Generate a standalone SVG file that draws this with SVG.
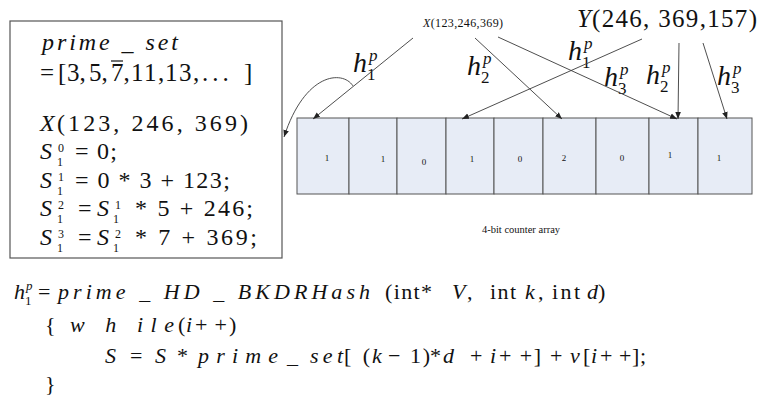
<svg xmlns="http://www.w3.org/2000/svg" width="760" height="398" viewBox="0 0 760 398">
<defs>
<style>
.m{font-family:"Liberation Serif","DejaVu Serif",serif;fill:#111}
.i{font-style:italic}
.L{font-size:24px}
.s{font-size:12px}
.B{font-size:22px}
.bs{font-size:13px}
.H{font-size:28px}
.hs{font-size:17px}
.c{font-size:9px}
.ln{stroke:#3a3a3a;stroke-width:0.9;fill:none}
.cell{fill:#e7ecf6;stroke:#555;stroke-width:1}
</style>
<marker id="ah" viewBox="0 0 10 10" refX="10" refY="5" markerWidth="7" markerHeight="7" markerUnits="userSpaceOnUse" orient="auto">
<path d="M0,1 L10,5 L0,9 z" fill="#222"/>
</marker>
</defs>
<rect width="760" height="398" fill="#fff"/>

<g id="formula-box">
<rect x="10" y="21" width="272" height="237" fill="#fff" stroke="#555" stroke-width="1.2"/>
<text class="m i L" x="42" y="50" textLength="136" lengthAdjust="spacing">prime _ set</text>
<text class="m" y="81" font-size="25"><tspan x="40">=</tspan><tspan x="58">[</tspan><tspan x="67">3,</tspan><tspan x="89">5,</tspan><tspan x="111">7,</tspan><tspan x="131" letter-spacing="1.5">11,</tspan><tspan x="165" letter-spacing="1.5">13,</tspan><tspan x="202" letter-spacing="4">...</tspan><tspan x="244">]</tspan></text>
<line x1="111" y1="61" x2="123" y2="61" stroke="#111" stroke-width="1.2"/>
<text class="m i L" x="40" y="131">X</text>
<text class="m L" x="57" y="131" textLength="191" lengthAdjust="spacing">(123, 246, 369)</text>
<text class="m i L" x="40" y="159">S</text>
<text class="m s" x="58" y="152">0</text>
<text class="m s" x="57" y="166">1</text>
<text class="m L" x="75" y="159" textLength="42" lengthAdjust="spacing">= 0;</text>
<text class="m i L" x="40" y="188">S</text>
<text class="m s" x="58" y="181">1</text>
<text class="m s" x="57" y="195">1</text>
<text class="m L" x="75" y="188" textLength="155" lengthAdjust="spacing">= 0 * 3 + 123;</text>
<text class="m i L" x="40" y="216">S</text>
<text class="m s" x="58" y="209">2</text>
<text class="m s" x="57" y="223">1</text>
<text class="m L" x="78" y="216">=</text>
<text class="m i L" x="97" y="216">S</text>
<text class="m s" x="115" y="209">1</text>
<text class="m s" x="113" y="223">1</text>
<text class="m L" x="135" y="216" textLength="118" lengthAdjust="spacing">* 5 + 246;</text>
<text class="m i L" x="40" y="245">S</text>
<text class="m s" x="58" y="238">3</text>
<text class="m s" x="57" y="252">1</text>
<text class="m L" x="78" y="245">=</text>
<text class="m i L" x="97" y="245">S</text>
<text class="m s" x="115" y="238">2</text>
<text class="m s" x="113" y="252">1</text>
<text class="m L" x="135" y="245" textLength="122" lengthAdjust="spacing">* 7 + 369;</text>
</g>

<g id="label-x">
<text class="m" x="423" y="27" font-size="12" textLength="80" lengthAdjust="spacing"><tspan font-style="italic">X</tspan>(123,246,369)</text>
</g>
<g id="label-y">
<text class="m i" x="577" y="27" font-size="25">Y</text>
<text class="m" x="592" y="27" font-size="25" textLength="165" lengthAdjust="spacing">(246, 369,157)</text>
</g>

<g id="h-labels">
<g id="hx1"><text class="m i H" x="353" y="72">h</text><text class="m i hs" x="369" y="61">p</text><text class="m hs" x="367" y="80">1</text></g>
<g id="hx2"><text class="m i H" x="467" y="75">h</text><text class="m i hs" x="483" y="64">p</text><text class="m hs" x="481" y="83">2</text></g>
<g id="hy1"><text class="m i H" x="568" y="60">h</text><text class="m i hs" x="584" y="49">p</text><text class="m hs" x="582" y="68">1</text></g>
<g id="hx3"><text class="m i H" x="604" y="86">h</text><text class="m i hs" x="620" y="75">p</text><text class="m hs" x="618" y="94">3</text></g>
<g id="hy2"><text class="m i H" x="646" y="84">h</text><text class="m i hs" x="662" y="73">p</text><text class="m hs" x="660" y="92">2</text></g>
<g id="hy3"><text class="m i H" x="717" y="85">h</text><text class="m i hs" x="733" y="74">p</text><text class="m hs" x="731" y="93">3</text></g>
</g>

<g id="counter-array">
<g id="cell-1"><rect class="cell" x="297" y="118" width="52" height="76"/><text class="m c" x="327" y="161" text-anchor="middle">1</text></g>
<g id="cell-2"><rect class="cell" x="349" y="118" width="48" height="76"/><text class="m c" x="383" y="162" text-anchor="middle">1</text></g>
<g id="cell-3"><rect class="cell" x="397" y="118" width="49" height="76"/><text class="m c" x="424" y="165" text-anchor="middle">0</text></g>
<g id="cell-4"><rect class="cell" x="446" y="118" width="48" height="76"/><text class="m c" x="472" y="162" text-anchor="middle">1</text></g>
<g id="cell-5"><rect class="cell" x="494" y="118" width="49" height="76"/><text class="m c" x="520" y="162" text-anchor="middle">0</text></g>
<g id="cell-6"><rect class="cell" x="543" y="118" width="53" height="76"/><text class="m c" x="564" y="161" text-anchor="middle">2</text></g>
<g id="cell-7"><rect class="cell" x="596" y="118" width="53" height="76"/><text class="m c" x="622" y="161" text-anchor="middle">0</text></g>
<g id="cell-8"><rect class="cell" x="649" y="118" width="49" height="76"/><text class="m c" x="670" y="158" text-anchor="middle">1</text></g>
<g id="cell-9"><rect class="cell" x="698" y="118" width="54" height="76"/><text class="m c" x="719" y="161" text-anchor="middle">1</text></g>
</g>
<g id="array-caption">
<text class="m" x="521" y="233" font-size="10.5" text-anchor="middle">4-bit counter array</text>
</g>

<g id="connectors">
<line class="ln" x1="413" y1="38" x2="313" y2="119" marker-end="url(#ah)"/>
<line class="ln" x1="475" y1="38" x2="562" y2="119" marker-end="url(#ah)"/>
<line class="ln" x1="498" y1="37" x2="677" y2="119" marker-end="url(#ah)"/>
<line class="ln" x1="642" y1="39" x2="462" y2="119" marker-end="url(#ah)"/>
<line class="ln" x1="679" y1="43" x2="678" y2="119" marker-end="url(#ah)"/>
<line class="ln" x1="703" y1="43" x2="727" y2="119" marker-end="url(#ah)"/>
<path class="ln" d="M353,86 C343,70 305,72 284,137" marker-end="url(#ah)"/>
</g>

<g id="hash-function">
<text class="m i B" x="14" y="299">h</text>
<text class="m i bs" x="26" y="290">p</text>
<text class="m bs" x="25" y="305">1</text>
<text class="m B" x="38" y="299">=</text>
<text class="m i B" x="58" y="299" textLength="312" lengthAdjust="spacing">prime _ HD _ BKDRHash</text>
<text class="m B" x="385" y="299" textLength="47" lengthAdjust="spacing">(int*</text>
<text class="m i B" x="452" y="299">V</text>
<text class="m B" x="467" y="299">,</text>
<text class="m B" x="490" y="299" textLength="26" lengthAdjust="spacing">int</text>
<text class="m i B" x="525" y="299">k</text>
<text class="m B" x="538" y="299">,</text>
<text class="m B" x="552" y="299" textLength="28" lengthAdjust="spacing">int</text>
<text class="m i B" x="587" y="299">d</text>
<text class="m B" x="598" y="299">)</text>

<text class="m B" x="45" y="332">{</text>
<text class="m i B" x="70" y="332" textLength="104" lengthAdjust="spacing">w h ile</text>
<text class="m B" x="178" y="332">(</text>
<text class="m i B" x="186" y="332">i</text>
<text class="m B" x="195" y="332" textLength="32" lengthAdjust="spacing">+ +</text>
<text class="m B" x="229" y="332">)</text>

<text class="m i B" x="105" y="363">S</text>
<text class="m B" x="130" y="363">=</text>
<text class="m i B" x="155" y="363">S</text>
<text class="m B" x="177" y="363">*</text>
<text class="m i B" x="198" y="363" textLength="80" lengthAdjust="spacing">prime</text>
<text class="m B" x="287" y="363">_</text>
<text class="m i B" x="310" y="363" textLength="33" lengthAdjust="spacing">set</text>
<text class="m B" x="344" y="363" textLength="26" lengthAdjust="spacing">[(</text>
<text class="m i B" x="372" y="363">k</text>
<text class="m B" x="388" y="363">−</text>
<text class="m B" x="410" y="363" textLength="20" lengthAdjust="spacing">1)</text>
<text class="m B" x="430" y="363">*</text>
<text class="m i B" x="443" y="363">d</text>
<text class="m B" x="470" y="363">+</text>
<text class="m i B" x="490" y="363">i</text>
<text class="m B" x="499" y="363" textLength="42" lengthAdjust="spacing">+ +]</text>
<text class="m B" x="550" y="363">+</text>
<text class="m i B" x="570" y="363">v</text>
<text class="m B" x="583" y="363">[</text>
<text class="m i B" x="591" y="363">i</text>
<text class="m B" x="600" y="363" textLength="46" lengthAdjust="spacing">+ +];</text>

<text class="m B" x="45" y="391">}</text>
</g>
</svg>
